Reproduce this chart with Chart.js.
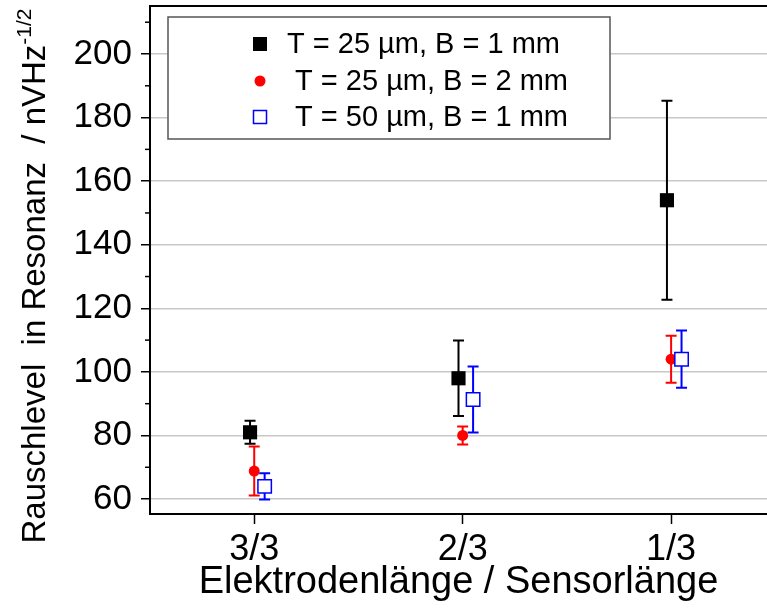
<!DOCTYPE html>
<html>
<head>
<meta charset="utf-8">
<script src="https://cdn.jsdelivr.net/npm/chart.js@4"></script>
<style>
  body { margin: 0; background: #fff; overflow: hidden; }
  #wrap { width: 767px; height: 609px; position: relative; }
</style>
</head>
<body>
<div id="wrap"><canvas id="noiseChart"></canvas></div>
<script>
const categories = ['3/3', '2/3', '1/3'];
const yTicks = [60, 80, 100, 120, 140, 160, 180, 200];
const yMinorTicks = [70, 90, 110, 130, 150, 170, 190, 210];
const seriesLabels = ['T = 25 µm, B = 1 mm', ' T = 25 µm, B = 2 mm', ' T = 50 µm, B = 1 mm'];

const b1Values = [81, 98, 154];
const b1Errors = [3.6, 11.9, 31.3];
const b2Values = [68.8, 80, 104];
const b2Errors = [7.7, 2.8, 7.4];
const t50Values = [64, 91.3, 104];
const t50Errors = [4.1, 10.4, 9];

const FONT = '"Liberation Sans", Arial, sans-serif';

function points(values, shift) {
    return values.map((v, i) => ({ x: i + 1 + shift, y: v }));
}

// error bars, drawn below the markers
const errorBars = {
    id: 'errorBars',
    beforeDatasetsDraw(chart) {
        const ctx = chart.ctx;
        const yScale = chart.scales.y;
        chart.data.datasets.forEach((ds, di) => {
            const meta = chart.getDatasetMeta(di);
            ctx.save();
            ctx.strokeStyle = ds.borderColor;
            ctx.lineWidth = 2;
            meta.data.forEach((pt, i) => {
                const v = ds.data[i].y;
                const e = ds.errors[i];
                const top = yScale.getPixelForValue(v + e);
                const bot = yScale.getPixelForValue(v - e);
                const cap = 5.5;
                ctx.beginPath();
                ctx.moveTo(pt.x, top);
                ctx.lineTo(pt.x, bot);
                ctx.moveTo(pt.x - cap, top);
                ctx.lineTo(pt.x + cap, top);
                ctx.moveTo(pt.x - cap, bot);
                ctx.lineTo(pt.x + cap, bot);
                ctx.stroke();
            });
            ctx.restore();
        });
    }
};

// frame top, minor ticks, y title with superscript, boxed legend
const decorations = {
    id: 'decorations',
    afterDraw(chart) {
        const ctx = chart.ctx;
        const area = chart.chartArea;
        const yScale = chart.scales.y;
        ctx.save();
        ctx.strokeStyle = '#000';
        ctx.lineWidth = 2;
        ctx.beginPath();
        ctx.moveTo(area.left - 1, area.top);
        ctx.lineTo(area.right, area.top);
        ctx.stroke();

        ctx.lineWidth = 1.5;
        yMinorTicks.forEach(v => {
            const y = yScale.getPixelForValue(v);
            if (y < area.top || y > area.bottom) return;
            ctx.beginPath();
            ctx.moveTo(area.left - 5, y);
            ctx.lineTo(area.left, y);
            ctx.stroke();
        });

        // y axis title
        ctx.fillStyle = '#000';
        ctx.translate(45, 276);
        ctx.rotate(-Math.PI / 2);
        const main = 'Rauschlevel  in Resonanz  / nVHz';
        const sup = '-1/2';
        ctx.font = '33px ' + FONT;
        const w1 = ctx.measureText(main).width;
        ctx.font = '21px ' + FONT;
        const w2 = ctx.measureText(sup).width;
        const start = -(w1 + w2) / 2;
        ctx.textBaseline = 'alphabetic';
        ctx.font = '33px ' + FONT;
        ctx.fillText(main, start, 0);
        ctx.font = '21px ' + FONT;
        ctx.fillText(sup, start + w1, -14);
        ctx.restore();

        // legend
        ctx.save();
        const lx = area.left + 18, ly = area.top + 11;
        ctx.fillStyle = '#fff';
        ctx.fillRect(lx, ly, 442, 122);
        ctx.strokeStyle = '#555';
        ctx.lineWidth = 1.5;
        ctx.strokeRect(lx, ly, 442, 122);
        const rows = [38, 75, 111];
        ctx.font = '29px ' + FONT;
        ctx.textBaseline = 'middle';
        chart.data.datasets.forEach((ds, di) => {
            const cy = area.top + rows[di];
            const mx = area.left + 110;
            if (ds.pointStyle === 'circle') {
                ctx.fillStyle = ds.pointBackgroundColor;
                ctx.beginPath();
                ctx.arc(mx, cy, 5.5, 0, Math.PI * 2);
                ctx.fill();
            } else if (ds.pointBackgroundColor === '#fff') {
                ctx.fillStyle = '#fff';
                ctx.fillRect(mx - 6.5, cy - 6.5, 13, 13);
                ctx.strokeStyle = ds.borderColor;
                ctx.lineWidth = 1.5;
                ctx.strokeRect(mx - 6.5, cy - 6.5, 13, 13);
            } else {
                ctx.fillStyle = ds.pointBackgroundColor;
                ctx.fillRect(mx - 7, cy - 7, 14, 14);
            }
            ctx.fillStyle = '#000';
            ctx.fillText(ds.label, area.left + 137, cy + 1);
        });
        ctx.restore();
    }
};

new Chart(document.getElementById('noiseChart'), {
    type: 'scatter',
    data: {
        datasets: [{
            label: seriesLabels[0],
            data: points(b1Values, -0.02),
            errors: b1Errors,
            pointStyle: 'rect',
            pointRadius: 10,
            pointBackgroundColor: '#000',
            pointBorderColor: '#000',
            pointBorderWidth: 0,
            borderColor: '#000',
            order: 3
        }, {
            label: seriesLabels[1],
            data: points(b2Values, 0),
            errors: b2Errors,
            pointStyle: 'circle',
            pointRadius: 5.5,
            pointBackgroundColor: '#ff0000',
            pointBorderColor: '#ff0000',
            pointBorderWidth: 0,
            borderColor: '#ff0000',
            order: 2
        }, {
            label: seriesLabels[2],
            data: points(t50Values, 0.05),
            errors: t50Errors,
            pointStyle: 'rect',
            pointRadius: 9.5,
            pointBackgroundColor: '#fff',
            pointBorderColor: '#0000ff',
            pointBorderWidth: 1.5,
            borderColor: '#0000ff',
            order: 1
        }]
    },
    options: {
        responsive: true,
        maintainAspectRatio: false,
        animation: false,
        layout: { autoPadding: false, padding: { top: 6, right: 0, left: 0, bottom: 0 } },
        plugins: {
            legend: { display: false },
            tooltip: { enabled: false }
        },
        scales: {
            x: {
                type: 'linear',
                min: 0.5,
                max: 3.46,
                afterBuildTicks: s => { s.ticks = categories.map((c, i) => ({ value: i + 1 })); },
                afterFit: s => { s.height = 95; s.paddingLeft = 0; s.paddingRight = 0; },
                ticks: {
                    callback: v => categories[v - 1],
                    color: '#000',
                    font: { family: FONT, size: 36 },
                    padding: 4,
                    maxRotation: 0
                },
                grid: { drawOnChartArea: false, tickLength: 10, tickColor: '#000', tickWidth: 1.5 },
                border: { color: '#000', width: 2 },
                title: {
                    display: true,
                    text: 'Elektrodenlänge / Sensorlänge',
                    color: '#000',
                    font: { family: FONT, size: 38 },
                    padding: { top: 0, bottom: 4 }
                }
            },
            y: {
                min: 55.3,
                max: 215.1,
                afterBuildTicks: s => { s.ticks = yTicks.map(v => ({ value: v })); },
                afterFit: s => { s.width = 150; s.paddingTop = 0; s.paddingBottom = 0; },
                ticks: {
                    color: '#000',
                    font: { family: FONT, size: 35 },
                    padding: 9
                },
                grid: { color: '#c8c8c8', lineWidth: 1.5, tickLength: 9, tickColor: '#000', tickWidth: 1.5 },
                border: { color: '#000', width: 2 }
            }
        }
    },
    plugins: [errorBars, decorations]
});
</script>
</body>
</html>
